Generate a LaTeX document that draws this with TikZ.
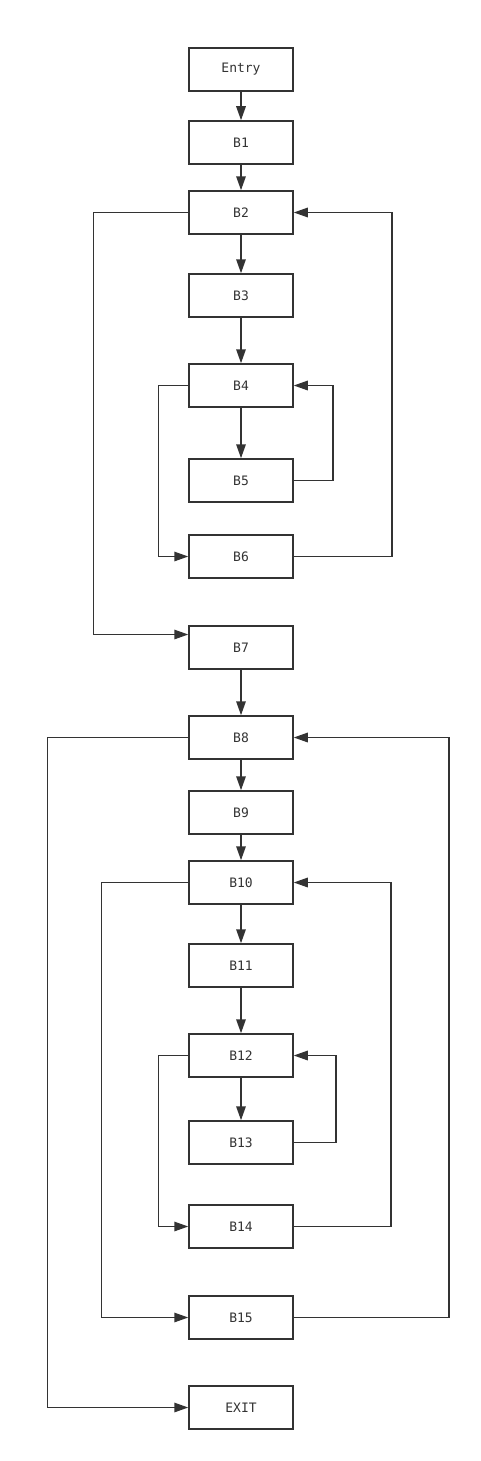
\documentclass[tikz,border=0pt]{standalone}
\usepackage{fontspec}
\setmonofont{DejaVu Sans Mono}
\usetikzlibrary{arrows.meta}
\definecolor{ink}{HTML}{333333}
\tikzset{
  blk/.style={draw=ink, line width=1.5pt, minimum width=104pt, minimum height=43pt, inner sep=0pt,
    text=ink, font=\ttfamily\fontsize{13}{15}\selectfont},
  arr/.style={draw=ink, line width=1.5pt, -{Triangle[length=14pt, width=9.5pt]}},
}
\begin{document}
\begin{tikzpicture}[x=1pt, y=-1pt]
\useasboundingbox (0,0) rectangle (480,1461);
\node[blk] (blkentry) at (241,69.5){Entry};
\node[blk] (blk1) at (241,142.5){B1};
\node[blk] (blk2) at (241,212.5){B2};
\node[blk] (blk3) at (241,295.5){B3};
\node[blk] (blk4) at (241,385.5){B4};
\node[blk] (blk5) at (241,480.5){B5};
\node[blk] (blk6) at (241,556.5){B6};
\node[blk] (blk7) at (241,647.5){B7};
\node[blk] (blk8) at (241,737.5){B8};
\node[blk] (blk9) at (241,812.5){B9};
\node[blk] (blk10) at (241,882.5){B10};
\node[blk] (blk11) at (241,965.5){B11};
\node[blk] (blk12) at (241,1055.5){B12};
\node[blk] (blk13) at (241,1142.5){B13};
\node[blk] (blk14) at (241,1226.5){B14};
\node[blk] (blk15) at (241,1317.5){B15};
\node[blk] (blkexit) at (241,1407.5){EXIT};
% straight down
\draw[arr](blkentry) -- (blk1);
\draw[arr](blk1) -- (blk2);
\draw[arr](blk2) -- (blk3);
\draw[arr](blk3) -- (blk4);
\draw[arr](blk4) -- (blk5);
\draw[arr](blk7) -- (blk8);
\draw[arr](blk8) -- (blk9);
\draw[arr](blk9) -- (blk10);
\draw[arr](blk10) -- (blk11);
\draw[arr](blk11) -- (blk12);
\draw[arr](blk12) -- (blk13);
% first half loops
\draw[arr](blk5.east) -- ++(39,0) |- (blk4.east);
\draw[arr](blk4.west) -- ++(-30,0) |- (blk6.west);
\draw[arr](blk6.east) -- ++(98,0) |- (blk2.east);
\draw[arr](blk2.west) -- ++(-95,0) |- ([yshift=13pt]blk7.west);
% second half loops
\draw[arr](blk13.east) -- ++(42,0) |- (blk12.east);
\draw[arr](blk12.west) -- ++(-30,0) |- (blk14.west);
\draw[arr](blk14.east) -- ++(97,0) |- (blk10.east);
\draw[arr](blk10.west) -- ++(-87,0) |- (blk15.west);
\draw[arr](blk15.east) -- ++(155,0) |- (blk8.east);
\draw[arr](blk8.west) -- ++(-141,0) |- (blkexit.west);
\end{tikzpicture}
\end{document}
